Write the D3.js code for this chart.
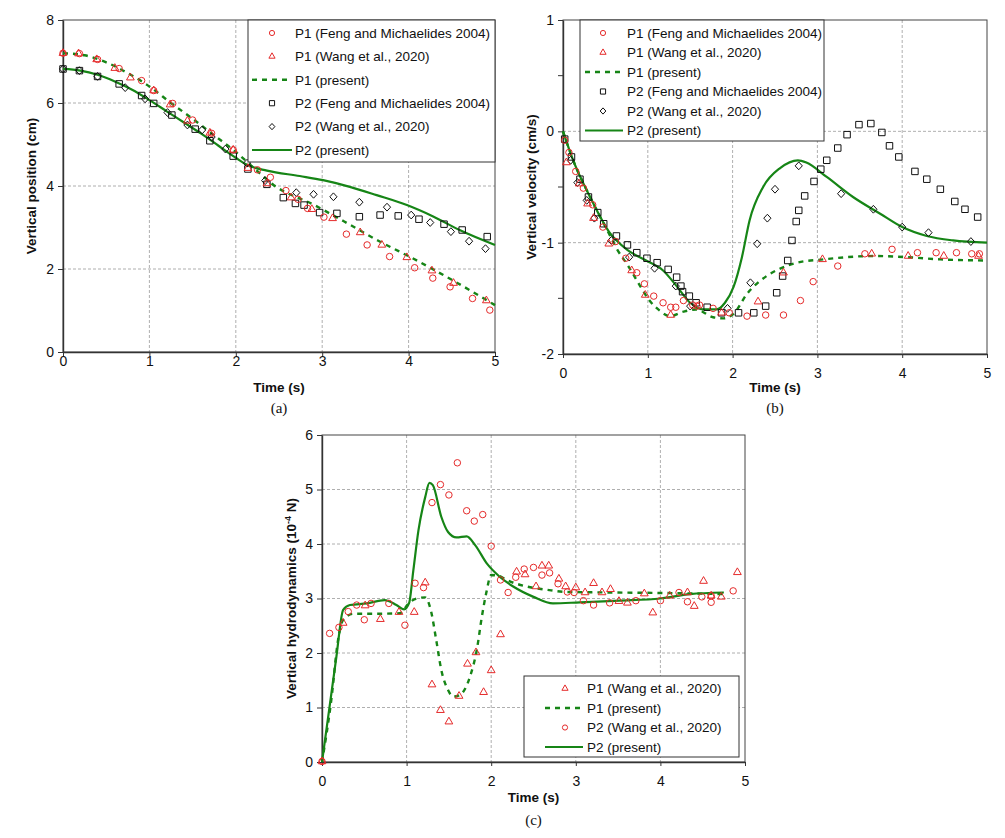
<!DOCTYPE html>
<html>
<head>
<meta charset="utf-8">
<script src="https://cdn.jsdelivr.net/npm/d3@7"></script>
<style>
  body { margin: 0; background: #fff; }
  svg { display: block; }
  text { font-family: "Liberation Sans", Arial, sans-serif; fill: #111; }
</style>
</head>
<body>
<svg id="chart" width="1005" height="838"></svg>
<script>
// ---- data: [time (s), value] ----

// (a) vertical position (cm)
const posP1Feng = [[0,7.2],[0.19,7.19],[0.40,7.05],[0.65,6.83],[0.91,6.54],[1.05,6.30],[1.27,5.99],[1.50,5.59],[1.72,5.27],[1.97,4.87],[2.25,4.39],[2.40,4.21],[2.58,3.89],[2.72,3.68],[2.83,3.46],[3.02,3.25],[3.28,2.84],[3.52,2.58],[3.78,2.30],[4.07,2.03],[4.28,1.78],[4.48,1.57],[4.74,1.29],[4.94,1.01]];
const posP1Wang = [[0,7.2],[0.18,7.19],[0.39,7.05],[0.60,6.84],[0.78,6.61],[1.05,6.30],[1.24,5.96],[1.44,5.57],[1.70,5.28],[1.97,4.87],[2.14,4.43],[2.36,4.06],[2.64,3.72],[2.88,3.44],[3.12,3.22],[3.44,2.88],[3.69,2.58],[3.98,2.28],[4.27,1.96],[4.52,1.66],[4.90,1.24]];
const posP1Present = [[0,7.2],[0.25,7.15],[0.5,6.98],[0.75,6.72],[1.0,6.40],[1.25,6.00],[1.5,5.62],[1.75,5.22],[2.0,4.82],[2.2,4.45],[2.44,4.02],[2.9,3.55],[3.25,3.15],[3.65,2.68],[4.1,2.2],[4.5,1.74],[5.0,1.13]];
const posP2Feng = [[0,6.82],[0.19,6.78],[0.40,6.64],[0.65,6.46],[0.91,6.18],[1.05,5.99],[1.26,5.71],[1.53,5.37],[1.70,5.09],[1.97,4.72],[2.14,4.41],[2.36,4.04],[2.55,3.72],[2.69,3.58],[2.79,3.54],[2.97,3.36],[3.17,3.34],[3.43,3.26],[3.67,3.30],[3.88,3.28],[4.12,3.20],[4.41,3.08],[4.62,2.94],[4.91,2.78]];
const posP2Wang = [[0,6.82],[0.19,6.78],[0.40,6.64],[0.72,6.37],[0.95,6.10],[1.21,5.77],[1.44,5.47],[1.61,5.35],[1.72,5.18],[1.88,4.89],[2.13,4.55],[2.34,4.13],[2.70,3.84],[2.90,3.80],[3.13,3.74],[3.43,3.61],[3.75,3.49],[4.03,3.30],[4.25,3.12],[4.49,2.90],[4.70,2.67],[4.89,2.49]];
const posP2Present = [[0,6.82],[0.2,6.78],[0.4,6.68],[0.6,6.52],[0.8,6.32],[1.0,6.07],[1.2,5.80],[1.4,5.53],[1.6,5.26],[1.8,4.97],[2.0,4.68],[2.13,4.51],[2.36,4.37],[2.74,4.24],[3.01,4.14],[3.32,3.98],[3.63,3.78],[3.98,3.54],[4.29,3.26],[4.59,2.94],[5.0,2.58]];

// (b) vertical velocity (cm/s)
const velP1Feng = [[0.02,-0.08],[0.07,-0.19],[0.15,-0.36],[0.24,-0.51],[0.35,-0.66],[0.47,-0.86],[0.62,-0.99],[0.74,-1.14],[0.87,-1.27],[0.96,-1.37],[1.07,-1.48],[1.18,-1.54],[1.27,-1.58],[1.33,-1.58],[1.42,-1.52],[1.53,-1.56],[1.58,-1.57],[1.61,-1.56],[1.77,-1.59],[1.96,-1.63],[2.17,-1.66],[2.39,-1.65],[2.60,-1.65],[2.80,-1.52],[2.95,-1.35],[3.24,-1.21],[3.56,-1.10],[3.88,-1.06],[4.18,-1.09],[4.40,-1.09],[4.64,-1.09],[4.82,-1.10],[4.91,-1.10]];
const velP1Wang = [[0.04,-0.28],[0.19,-0.47],[0.29,-0.65],[0.36,-0.78],[0.54,-1.01],[0.81,-1.25],[0.97,-1.47],[1.27,-1.65],[1.87,-1.63],[2.30,-1.53],[2.60,-1.27],[3.06,-1.15],[3.64,-1.10],[4.07,-1.12],[4.49,-1.12],[4.90,-1.12]];
const velP1Present = [[0,0],[0.12,-0.26],[0.32,-0.59],[0.55,-0.93],[0.63,-1.05],[0.77,-1.21],[0.91,-1.39],[1.02,-1.52],[1.14,-1.61],[1.26,-1.66],[1.42,-1.62],[1.57,-1.60],[1.77,-1.67],[1.89,-1.68],[2.01,-1.64],[2.17,-1.46],[2.40,-1.30],[2.54,-1.24],[2.76,-1.18],[3.07,-1.15],[3.66,-1.12],[4.05,-1.13],[4.45,-1.15],[5.0,-1.16]];
const velP2Feng = [[0.02,-0.07],[0.10,-0.23],[0.20,-0.43],[0.30,-0.59],[0.41,-0.73],[0.48,-0.83],[0.63,-0.94],[0.76,-1.02],[0.87,-1.09],[0.99,-1.14],[1.11,-1.18],[1.24,-1.24],[1.34,-1.31],[1.39,-1.39],[1.41,-1.44],[1.49,-1.48],[1.57,-1.54],[1.70,-1.58],[1.87,-1.63],[2.07,-1.63],[2.25,-1.63],[2.39,-1.57],[2.52,-1.45],[2.59,-1.30],[2.65,-1.16],[2.70,-0.98],[2.75,-0.81],[2.78,-0.71],[2.85,-0.58],[2.96,-0.45],[3.04,-0.34],[3.11,-0.26],[3.24,-0.15],[3.35,-0.03],[3.49,0.06],[3.63,0.07],[3.76,-0.01],[3.85,-0.13],[3.96,-0.23],[4.15,-0.36],[4.29,-0.43],[4.45,-0.52],[4.62,-0.63],[4.74,-0.70],[4.89,-0.77]];
const velP2Wang = [[0.09,-0.26],[0.17,-0.46],[0.28,-0.62],[0.37,-0.78],[0.57,-0.98],[0.78,-1.13],[1.08,-1.23],[1.33,-1.39],[1.50,-1.57],[1.94,-1.59],[2.21,-1.36],[2.29,-1.01],[2.41,-0.78],[2.50,-0.52],[2.78,-0.31],[3.28,-0.56],[3.66,-0.70],[4.00,-0.86],[4.31,-0.91],[4.81,-0.99]];
const velP2Present = [[0,0],[0.12,-0.26],[0.32,-0.59],[0.55,-0.91],[0.75,-1.06],[0.98,-1.16],[1.18,-1.25],[1.34,-1.39],[1.50,-1.54],[1.65,-1.60],[1.81,-1.60],[1.91,-1.54],[2.01,-1.40],[2.11,-1.13],[2.20,-0.80],[2.36,-0.50],[2.56,-0.33],[2.77,-0.26],[2.87,-0.28],[3.11,-0.41],[3.42,-0.59],[3.74,-0.74],[4.00,-0.86],[4.29,-0.94],[4.60,-0.98],[5.0,-1.0]];

// (c) vertical hydrodynamics (10^-4 N)
const forceP1Wang = [[0,0.01],[0.25,2.55],[0.51,2.87],[0.69,2.62],[0.91,2.75],[1.09,2.75],[1.22,3.29],[1.30,1.42],[1.40,0.95],[1.50,0.74],[1.62,1.21],[1.72,1.80],[1.82,2.01],[1.91,1.28],[2.00,1.68],[2.11,2.34],[2.30,3.49],[2.40,3.44],[2.53,3.22],[2.60,3.60],[2.68,3.60],[2.80,3.36],[2.88,3.22],[3.00,3.20],[3.11,3.11],[3.21,3.28],[3.31,3.11],[3.41,3.17],[3.51,2.95],[3.61,2.92],[3.81,3.09],[3.91,2.74],[4.11,3.05],[4.32,3.11],[4.40,2.86],[4.51,3.32],[4.60,3.05],[4.72,3.03],[4.91,3.48]];
const forceP1Present = [[0,0],[0.11,1.14],[0.19,2.24],[0.25,2.61],[0.37,2.72],[0.64,2.72],[0.92,2.73],[1.02,2.90],[1.10,2.99],[1.22,3.02],[1.29,2.76],[1.35,2.24],[1.41,1.69],[1.49,1.32],[1.55,1.20],[1.63,1.23],[1.75,1.57],[1.83,2.06],[1.89,2.67],[1.94,3.09],[2.0,3.43],[2.08,3.42],[2.18,3.34],[2.42,3.22],[2.66,3.16],[2.89,3.12],[3.44,3.11],[4.08,3.10],[4.79,3.08]];
const forceP2Wang = [[0,0.01],[0.09,2.36],[0.20,2.47],[0.31,2.76],[0.41,2.88],[0.50,2.61],[0.58,2.91],[0.79,2.91],[0.98,2.51],[1.10,3.28],[1.20,3.20],[1.30,4.76],[1.40,5.09],[1.50,4.90],[1.60,5.49],[1.71,4.61],[1.80,4.42],[1.90,4.54],[2.00,3.96],[2.11,3.34],[2.20,3.11],[2.29,3.39],[2.39,3.54],[2.50,3.57],[2.60,3.43],[2.69,3.47],[2.79,3.27],[2.90,3.12],[2.98,3.11],[3.09,2.96],[3.21,2.88],[3.40,2.92],[3.71,2.96],[4.00,2.96],[4.22,3.11],[4.32,2.94],[4.49,3.03],[4.60,3.05],[4.60,2.93],[4.86,3.14]];
const forceP2Present = [[0,0],[0.09,1.02],[0.17,1.93],[0.25,2.79],[0.33,2.88],[0.53,2.91],[0.74,2.97],[0.88,2.88],[0.97,2.80],[1.03,2.92],[1.08,3.52],[1.14,4.25],[1.22,4.86],[1.27,5.12],[1.31,5.08],[1.41,4.50],[1.49,4.22],[1.59,4.12],[1.71,4.14],[1.81,3.98],[1.95,3.64],[2.10,3.40],[2.26,3.22],[2.50,3.03],[2.73,2.91],[3.05,2.93],[3.52,2.96],[4.00,3.00],[4.35,3.08],[4.75,3.11]];

// ticks
const timeTicks = [0, 1, 2, 3, 4, 5];
const posTicks = [0, 2, 4, 6, 8];
const velTicks = [-2, -1, 0, 1];
const velMinorTicks = [-1.5, -0.5, 0.5];
const forceTicks = [0, 1, 2, 3, 4, 5, 6];

// legend labels
const labelP1Feng = "P1 (Feng and Michaelides 2004)";
const labelP1Wang = "P1 (Wang et al., 2020)";
const labelP1Present = "P1 (present)";
const labelP2Feng = "P2 (Feng and Michaelides 2004)";
const labelP2Wang = "P2 (Wang et al., 2020)";
const labelP2Present = "P2 (present)";

const RED = "#e52a2a";
const BLACK = "#111";
const GREEN = "#168516";

const svg = d3.select("#chart");
svg.append("rect").attr("width", 1005).attr("height", 838).attr("fill", "#fff");

function markerPath(type, k) {
  k = k || 1;
  if (type === "circle") return d3.symbol(d3.symbolCircle, 33 * k * k)();
  if (type === "square") return d3.symbol(d3.symbolSquare, 42 * k * k)();
  if (type === "triangle") return d3.symbol(d3.symbolTriangle, 26 * k * k)();
  const a = 3.6 * k, b = 3.9 * k;
  return `M0,${-b}L${a},0L0,${b}L${-a},0Z`;
}

function drawPanel(p) {
  const x = d3.scaleLinear().domain([0, 5]).range([p.x0, p.x1]);
  const y = d3.scaleLinear().domain(p.yDomain).range([p.y0, p.y1]);
  const g = svg.append("g");

  // grid
  g.append("g").selectAll("line")
    .data(timeTicks.slice(1, -1))
    .join("line")
    .attr("x1", (d) => x(d)).attr("x2", (d) => x(d))
    .attr("y1", p.y1).attr("y2", p.y0)
    .attr("stroke", "#9a9a9a").attr("stroke-width", 0.8).attr("stroke-dasharray", "3,2");
  g.append("g").selectAll("line")
    .data(p.yTicks.slice(1, -1))
    .join("line")
    .attr("x1", p.x0).attr("x2", p.x1)
    .attr("y1", (d) => y(d)).attr("y2", (d) => y(d))
    .attr("stroke", "#9a9a9a").attr("stroke-width", 0.8).attr("stroke-dasharray", "3,2");

  // frame
  g.append("rect")
    .attr("x", p.x0).attr("y", p.y1)
    .attr("width", p.x1 - p.x0).attr("height", p.y0 - p.y1)
    .attr("fill", "none").attr("stroke", "#444").attr("stroke-width", 1);

  // axes
  const xAxis = g.append("g")
    .attr("transform", `translate(0,${p.y0})`)
    .call(d3.axisBottom(x).tickValues(timeTicks).tickSize(4).tickSizeOuter(0).tickFormat((d) => String(d)));
  xAxis.selectAll(".tick text").attr("y", p.xLabelGap).attr("dy", "0.35em");

  const yAxis = g.append("g")
    .attr("transform", `translate(${p.x0},0)`)
    .call(d3.axisLeft(y).tickValues(p.yTicks).tickSize(5).tickPadding(4).tickSizeOuter(0).tickFormat((d) => String(d)));

  [xAxis, yAxis].forEach((a) => {
    a.select(".domain").attr("stroke", "#333").attr("stroke-width", 1.4);
    a.selectAll(".tick line").attr("stroke", "#333");
    a.selectAll(".tick text").attr("font-size", 14).attr("fill", "#111")
      .attr("font-family", '"Liberation Sans", Arial, sans-serif');
  });

  if (p.yMinor) {
    g.append("g").selectAll("line")
      .data(p.yMinor)
      .join("line")
      .attr("x1", p.x0 - 5).attr("x2", p.x0)
      .attr("y1", (d) => y(d)).attr("y2", (d) => y(d))
      .attr("stroke", "#333");
  }

  // curves
  const line = d3.line().x((d) => x(d[0])).y((d) => y(d[1])).curve(d3.curveMonotoneX);
  p.lines.forEach((s) => {
    g.append("path")
      .datum(s.data)
      .attr("d", line)
      .attr("fill", "none")
      .attr("stroke", GREEN)
      .attr("stroke-width", s.dashed ? 2.4 : 2.2)
      .attr("stroke-dasharray", s.dashed ? "5,5" : null);
  });

  // markers
  p.markers.forEach((s) => {
    g.append("g").selectAll("path")
      .data(s.data)
      .join("path")
      .attr("transform", (d) => `translate(${x(d[0])},${y(d[1])})`)
      .attr("d", markerPath(s.type))
      .attr("fill", "none")
      .attr("stroke", s.color)
      .attr("stroke-width", 1);
  });

  // axis titles
  g.append("text")
    .attr("x", (p.x0 + p.x1) / 2).attr("y", p.timeY)
    .attr("text-anchor", "middle").attr("font-size", 13.5).attr("font-weight", "bold")
    .text("Time (s)");
  g.append("text")
    .attr("x", (p.x0 + p.x1) / 2).attr("y", p.tagY)
    .attr("text-anchor", "middle").attr("font-size", 15)
    .style("font-family", '"Liberation Serif", "Times New Roman", serif')
    .text(p.tag);
  const yt = g.append("text")
    .attr("transform", `translate(${p.yTitleX},${(p.y0 + p.y1) / 2}) rotate(-90)`)
    .attr("text-anchor", "middle").attr("font-size", 13.5).attr("font-weight", "bold");
  yt.append("tspan").text(p.yTitle);
  if (p.yTitleSup) {
    yt.append("tspan").attr("font-size", 9).attr("dy", -5).text(p.yTitleSup);
    yt.append("tspan").attr("dy", 5).text(p.yTitleEnd);
  }

  // legend
  const L = p.legend;
  const lg = g.append("g");
  lg.append("rect")
    .attr("x", L.x).attr("y", L.y).attr("width", L.w).attr("height", L.h)
    .attr("fill", "#fff").attr("stroke", "#333").attr("stroke-width", 1);
  L.items.forEach((it, i) => {
    const cy = L.row0 + i * L.gap;
    if (it.type === "line") {
      lg.append("line")
        .attr("x1", L.lineX0).attr("x2", L.lineX1).attr("y1", cy).attr("y2", cy)
        .attr("stroke", GREEN).attr("stroke-width", it.dashed ? 2.4 : 2.2)
        .attr("stroke-dasharray", it.dashed ? "5,5" : null);
    } else {
      lg.append("path")
        .attr("transform", `translate(${L.symX},${cy})`)
        .attr("d", markerPath(it.type, 0.8))
        .attr("fill", "none").attr("stroke", it.color).attr("stroke-width", 1);
    }
    lg.append("text")
      .attr("x", L.textX).attr("y", cy).attr("dy", "0.35em")
      .attr("font-size", 13.5)
      .text(it.label);
  });
}

drawPanel({
  x0: 63, x1: 495, y0: 352, y1: 20,
  yDomain: [0, 8], yTicks: posTicks,
  xLabelGap: 9, timeY: 392, tagY: 413, tag: "(a)",
  yTitleX: 36, yTitle: "Vertical position (cm)",
  lines: [
    { data: posP1Present, dashed: true },
    { data: posP2Present, dashed: false }
  ],
  markers: [
    { data: posP2Feng, type: "square", color: BLACK },
    { data: posP2Wang, type: "diamond", color: BLACK },
    { data: posP1Feng, type: "circle", color: RED },
    { data: posP1Wang, type: "triangle", color: RED }
  ],
  legend: {
    x: 248, y: 20, w: 247, h: 142, row0: 33, gap: 23.4,
    symX: 272, lineX0: 252, lineX1: 292, textX: 295,
    items: [
      { type: "circle", color: RED, label: labelP1Feng },
      { type: "triangle", color: RED, label: labelP1Wang },
      { type: "line", dashed: true, label: labelP1Present },
      { type: "square", color: BLACK, label: labelP2Feng },
      { type: "diamond", color: BLACK, label: labelP2Wang },
      { type: "line", dashed: false, label: labelP2Present }
    ]
  }
});

drawPanel({
  x0: 563, x1: 987, y0: 354, y1: 20,
  yDomain: [-2, 1], yTicks: velTicks, yMinor: velMinorTicks,
  xLabelGap: 19, timeY: 392, tagY: 413, tag: "(b)",
  yTitleX: 536, yTitle: "Vertical velocity (cm/s)",
  lines: [
    { data: velP1Present, dashed: true },
    { data: velP2Present, dashed: false }
  ],
  markers: [
    { data: velP2Feng, type: "square", color: BLACK },
    { data: velP2Wang, type: "diamond", color: BLACK },
    { data: velP1Feng, type: "circle", color: RED },
    { data: velP1Wang, type: "triangle", color: RED }
  ],
  legend: {
    x: 580, y: 20, w: 244, h: 121, row0: 33, gap: 19.5,
    symX: 603, lineX0: 585, lineX1: 623, textX: 627,
    items: [
      { type: "circle", color: RED, label: labelP1Feng },
      { type: "triangle", color: RED, label: labelP1Wang },
      { type: "line", dashed: true, label: labelP1Present },
      { type: "square", color: BLACK, label: labelP2Feng },
      { type: "diamond", color: BLACK, label: labelP2Wang },
      { type: "line", dashed: false, label: labelP2Present }
    ]
  }
});

drawPanel({
  x0: 322, x1: 745, y0: 762, y1: 435,
  yDomain: [0, 6], yTicks: forceTicks,
  xLabelGap: 19.5, timeY: 802, tagY: 825, tag: "(c)",
  yTitleX: 296, yTitle: "Vertical hydrodynamics (10", yTitleSup: "-4", yTitleEnd: " N)",
  lines: [
    { data: forceP1Present, dashed: true },
    { data: forceP2Present, dashed: false }
  ],
  markers: [
    { data: forceP2Wang, type: "circle", color: RED },
    { data: forceP1Wang, type: "triangle", color: RED }
  ],
  legend: {
    x: 524, y: 676, w: 215, h: 81, row0: 688.5, gap: 19.5,
    symX: 565, lineX0: 545, lineX1: 583, textX: 587,
    items: [
      { type: "triangle", color: RED, label: labelP1Wang },
      { type: "line", dashed: true, label: labelP1Present },
      { type: "circle", color: RED, label: labelP2Wang },
      { type: "line", dashed: false, label: labelP2Present }
    ]
  }
});
</script>
</body>
</html>
